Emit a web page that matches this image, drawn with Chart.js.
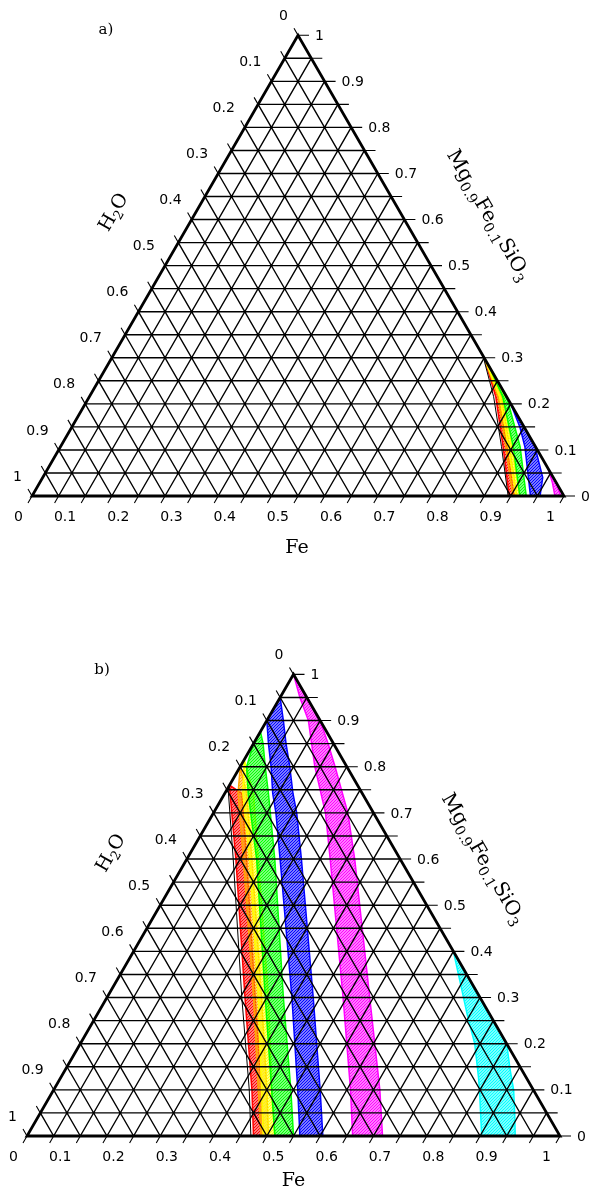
<!DOCTYPE html>
<html lang="en">
<head>
<meta charset="UTF-8">
<title>Fe - H2O - Mg0.9Fe0.1SiO3</title>
<script src="https://cdn.jsdelivr.net/npm/chart.js"></script>
<style>
  html, body { margin: 0; padding: 0; background: #fff; }
  .panel { position: relative; width: 593px; height: 596px; }
</style>
</head>
<body>
<div class="panel"><canvas id="chartA" width="593" height="596"></canvas></div>
<div class="panel"><canvas id="chartB" width="593" height="596"></canvas></div>

<script>
const SQ = Math.sqrt(3) / 2;

// labels on the three sides
const tickValues = [0, 0.1, 0.2, 0.3, 0.4, 0.5, 0.6, 0.7, 0.8, 0.9, 1];
const tickLabels = ['0', '0.1', '0.2', '0.3', '0.4', '0.5', '0.6', '0.7', '0.8', '0.9', '1'];

// every boundary is a list of [Fe, Mg0.9Fe0.1SiO3] fractions (H2O is the rest)

// panel a)
const aLimit        = [[0.695, 0.305], [0.760, 0.2155], [0.829, 0.107], [0.895, 0]];
const aRedLeft      = [[0.700, 0.300], [0.764, 0.2155], [0.832, 0.107], [0.897, 0]];
const aRedRight     = [[0.700, 0.300], [0.770, 0.2155], [0.839, 0.107], [0.906, 0]];
const aOrangeLeft   = [[0.700, 0.300], [0.768, 0.2155], [0.837, 0.107], [0.904, 0]];
const aOrangeRight  = [[0.700, 0.300], [0.775, 0.2155], [0.844, 0.107], [0.911, 0]];
const aYellowLeft   = [[0.700, 0.300], [0.771, 0.2155], [0.842, 0.107], [0.910, 0]];
const aYellowRight  = [[0.700, 0.300], [0.779, 0.2155], [0.848, 0.107], [0.917, 0]];
const aGreenLeft    = [[0.720, 0.280], [0.777, 0.2155], [0.851, 0.107], [0.917, 0]];
const aGreenRight   = [[0.720, 0.280], [0.7845, 0.2155], [0.864, 0.107], [0.929, 0]];
const aBlueLeft     = [[0.800, 0.200], [0.842, 0.150], [0.873, 0.107], [0.937, 0]];
const aBlueRight    = [[0.800, 0.200], [0.850, 0.150], [0.892, 0.107], [0.940, 0.040], [0.955, 0]];
const aMagentaLeft  = [[0.940, 0.060], [0.963, 0.030], [0.983, 0]];
const aMagentaRight = [[0.940, 0.060], [0.970, 0.030], [0.994, 0]];

// panel b)
const bLimit        = [[0, 0.760], [0.007, 0.742], [0.088, 0.598], [0.253, 0.300], [0.367, 0.100], [0.420, 0]];
const bRedLeft      = [[0, 0.760], [0.010, 0.742], [0.093, 0.598], [0.259, 0.300], [0.372, 0.100], [0.425, 0]];
const bRedRight     = [[0, 0.760], [0.032, 0.742], [0.113, 0.598], [0.278, 0.300], [0.390, 0.100], [0.443, 0]];
const bOrangeLeft   = [[0, 0.800], [0.025, 0.742], [0.107, 0.598], [0.275, 0.300], [0.384, 0.100], [0.439, 0]];
const bOrangeRight  = [[0, 0.800], [0.041, 0.742], [0.123, 0.598], [0.290, 0.300], [0.400, 0.100], [0.453, 0]];
const bYellowLeft   = [[0, 0.815], [0.034, 0.742], [0.119, 0.598], [0.284, 0.300], [0.390, 0.100], [0.443, 0]];
const bYellowRight  = [[0, 0.815], [0.054, 0.742], [0.135, 0.598], [0.303, 0.300], [0.409, 0.100], [0.465, 0]];
const bGreenLeft    = [[0, 0.876], [0, 0.850], [0.012, 0.800], [0.044, 0.742], [0.132, 0.598], [0.297, 0.300], [0.409, 0.100], [0.465, 0]];
const bGreenRight   = [[0, 0.876], [0.018, 0.850], [0.047, 0.800], [0.082, 0.742], [0.166, 0.598], [0.331, 0.300], [0.445, 0.100], [0.500, 0]];
const bBlueLeft     = [[0, 0.950], [0, 0.900], [0.028, 0.850], [0.058, 0.800], [0.090, 0.742], [0.117, 0.700], [0.176, 0.598], [0.347, 0.300], [0.458, 0.100], [0.512, 0]];
const bBlueRight    = [[0, 0.950], [0.031, 0.900], [0.061, 0.850], [0.093, 0.800], [0.128, 0.742], [0.156, 0.700], [0.216, 0.598], [0.387, 0.300], [0.500, 0.100], [0.555, 0]];
const bMagentaLeft  = [[0, 1], [0.037, 0.950], [0.078, 0.900], [0.109, 0.850], [0.140, 0.800], [0.210, 0.700], [0.270, 0.598], [0.443, 0.300], [0.557, 0.100], [0.611, 0]];
const bMagentaRight = [[0, 1], [0.050, 0.950], [0.100, 0.900], [0.140, 0.850], [0.178, 0.800], [0.252, 0.700], [0.316, 0.598], [0.493, 0.300], [0.612, 0.100], [0.667, 0]];
const bCyanLeft     = [[0.600, 0.400], [0.700, 0.255], [0.740, 0.200], [0.783, 0.128], [0.799, 0.100], [0.853, 0]];
const bCyanRight    = [[0.600, 0.400], [0.750, 0.250], [0.800, 0.200], [0.835, 0.143], [0.863, 0.100], [0.890, 0.050], [0.916, 0]];
const bCyanBase     = [[0.916, 0], [1, 0]];

const colors = {
  red: '#ff0000', orange: '#ffa500', yellow: '#ffff00', green: '#00ff00',
  blue: '#0000ff', magenta: '#ff00ff', cyan: '#00ffff'
};

// ternary -> cartesian (unit side, base on y = 0)
function toXY(p) {
  return { x: p[0] + p[1] / 2, y: p[1] * SQ };
}

// fine diagonal hatching over a light tint, used inside the bands
function hatch(color) {
  const c = document.createElement('canvas');
  c.width = 3; c.height = 3;
  const g = c.getContext('2d');
  g.globalAlpha = 0.3;
  g.fillStyle = color;
  g.fillRect(0, 0, 3, 3);
  g.globalAlpha = 1;
  g.strokeStyle = color;
  g.lineWidth = 1.2;
  g.beginPath();
  g.moveTo(-1, 4); g.lineTo(4, -1);
  g.moveTo(-2, 2); g.lineTo(2, -2);
  g.moveTo(1, 5); g.lineTo(5, 1);
  g.stroke();
  return g.createPattern(c, 'repeat');
}

function band(left, right, color) {
  return {
    data: left.concat(right.slice().reverse()).map(toXY),
    showLine: true,
    fill: 'shape',
    backgroundColor: hatch(color),
    borderColor: color,
    borderWidth: 1.5,
    pointRadius: 0,
    tension: 0
  };
}

function line(pts, color, width, dash) {
  return {
    data: pts.map(toXY),
    showLine: true,
    fill: false,
    borderColor: color,
    borderWidth: width,
    borderDash: dash || [],
    pointRadius: 0,
    tension: 0
  };
}

// text with subscripts, parts = [[text, isSub], ...]
function richText(ctx, parts, cx, cy, angle, size) {
  const big = size + 'px "DejaVu Serif"';
  const small = Math.round(size * 0.7) + 'px "DejaVu Serif"';
  ctx.save();
  ctx.translate(cx, cy);
  ctx.rotate(angle);
  ctx.textAlign = 'left';
  ctx.textBaseline = 'middle';
  let w = 0;
  parts.forEach(([t, sub]) => { ctx.font = sub ? small : big; w += ctx.measureText(t).width; });
  let xx = -w / 2;
  parts.forEach(([t, sub]) => {
    ctx.font = sub ? small : big;
    ctx.fillText(t, xx, sub ? size * 0.32 : 0);
    xx += ctx.measureText(t).width;
  });
  ctx.restore();
}

// triangle, 0.05 grid, ticks and labels
const ternaryFrame = {
  id: 'ternaryFrame',
  afterDatasetsDraw(chart, args, opts) {
    const { ctx, scales: { x, y } } = chart;
    const P = (fe, sil) => [x.getPixelForValue(fe + sil / 2), y.getPixelForValue(sil * SQ)];
    const seg = (a, b) => { ctx.moveTo(a[0], a[1]); ctx.lineTo(b[0], b[1]); };
    ctx.save();
    ctx.strokeStyle = '#000';
    ctx.lineCap = 'butt';

    // inner grid
    ctx.lineWidth = 1.4;
    ctx.beginPath();
    for (let k = 1; k < 20; k++) {
      const v = k / 20;
      seg(P(0, v), P(1 - v, v));     // constant silicate
      seg(P(v, 0), P(v, 1 - v));     // constant Fe
      seg(P(0, 1 - v), P(1 - v, 0)); // constant H2O
    }
    ctx.stroke();

    // ticks
    ctx.lineWidth = 1.1;
    ctx.beginPath();
    for (let k = 0; k <= 20; k++) {
      const v = k / 20;
      const b = P(v, 0);
      seg(b, [b[0] - 4, b[1] + 7]);
      const l = P(0, 1 - v);
      seg(l, [l[0] - 4, l[1] - 7]);
      const r = P(1 - v, v);
      seg(r, [r[0] + 11, r[1]]);
    }
    ctx.stroke();

    // outline
    ctx.lineWidth = 2.8;
    ctx.lineJoin = 'miter';
    ctx.beginPath();
    const A = P(0, 0), B = P(1, 0), C = P(0, 1);
    ctx.moveTo(A[0], A[1]); ctx.lineTo(B[0], B[1]); ctx.lineTo(C[0], C[1]); ctx.closePath();
    ctx.stroke();

    // tick labels
    ctx.fillStyle = '#000';
    ctx.font = '14px "DejaVu Sans"';
    ctx.textBaseline = 'middle';
    tickValues.forEach((v, i) => {
      const b = P(v, 0);
      ctx.textAlign = 'right';
      ctx.fillText(tickLabels[i], b[0] - 9, b[1] + 21);
      const l = P(0, 1 - v);
      ctx.fillText(tickLabels[i], l[0] - 10, l[1] - 19);
      const r = P(1 - v, v);
      ctx.textAlign = 'left';
      ctx.fillText(tickLabels[i], r[0] + 17, r[1] + 1);
    });

    // axis titles
    const base = P(0.5, 0), leftMid = P(0, 0.5), rightMid = P(0.5, 0.5);
    richText(ctx, [['Fe', 0]], base[0] + opts.fe[0], base[1] + opts.fe[1], 0, 19);
    richText(ctx, [['H', 0], ['2', 1], ['O', 0]], leftMid[0] + opts.h2o[0], leftMid[1] + opts.h2o[1], -Math.PI / 3, 19);
    richText(ctx, [['Mg', 0], ['0.9', 1], ['Fe', 0], ['0.1', 1], ['SiO', 0], ['3', 1]],
      rightMid[0] + opts.sil[0], rightMid[1] + opts.sil[1], Math.PI / 3, 20);
    richText(ctx, [[opts.tag, 0]], opts.tagAt[0], opts.tagAt[1], 0, 15);
    ctx.restore();
  }
};

function makeTernary(id, ox, oy, side, datasets, frame) {
  return new Chart(document.getElementById(id), {
    type: 'scatter',
    data: { datasets },
    options: {
      responsive: false,
      animation: false,
      devicePixelRatio: 1,
      layout: { padding: 0 },
      scales: {
        x: { type: 'linear', display: false, min: -ox / side, max: (593 - ox) / side },
        y: { type: 'linear', display: false, min: (oy - 596) / side, max: oy / side }
      },
      plugins: { legend: { display: false }, tooltip: { enabled: false }, ternaryFrame: frame }
    },
    plugins: [ternaryFrame]
  });
}

// datasets listed back to front, so reverse for drawing order
function stack(list) {
  return list.map((d, i) => Object.assign(d, { order: list.length - i }));
}

makeTernary('chartA', 32, 496, 532, stack([
  band(aRedLeft, aRedRight, colors.red),
  band(aOrangeLeft, aOrangeRight, colors.orange),
  band(aYellowLeft, aYellowRight, colors.yellow),
  band(aGreenLeft, aGreenRight, colors.green),
  band(aBlueLeft, aBlueRight, colors.blue),
  band(aMagentaLeft, aMagentaRight, colors.magenta),
  line(aLimit, '#000', 1)
]), { fe: [-1, 52], h2o: [-51, -53], sil: [57, -50], tag: 'a)', tagAt: [106, 30] });

makeTernary('chartB', 27, 540, 533, stack([
  band(bRedLeft, bRedRight, colors.red),
  band(bOrangeLeft, bOrangeRight, colors.orange),
  band(bYellowLeft, bYellowRight, colors.yellow),
  band(bGreenLeft, bGreenRight, colors.green),
  band(bBlueLeft, bBlueRight, colors.blue),
  band(bMagentaLeft, bMagentaRight, colors.magenta),
  band(bCyanLeft, bCyanRight, colors.cyan),
  line(bCyanBase, colors.cyan, 1.2, [2, 2]),
  line(bLimit, '#000', 1)
]), { fe: [0, 45], h2o: [-49, -52], sil: [56, -46], tag: 'b)', tagAt: [102, 74] });
</script>
</body>
</html>
